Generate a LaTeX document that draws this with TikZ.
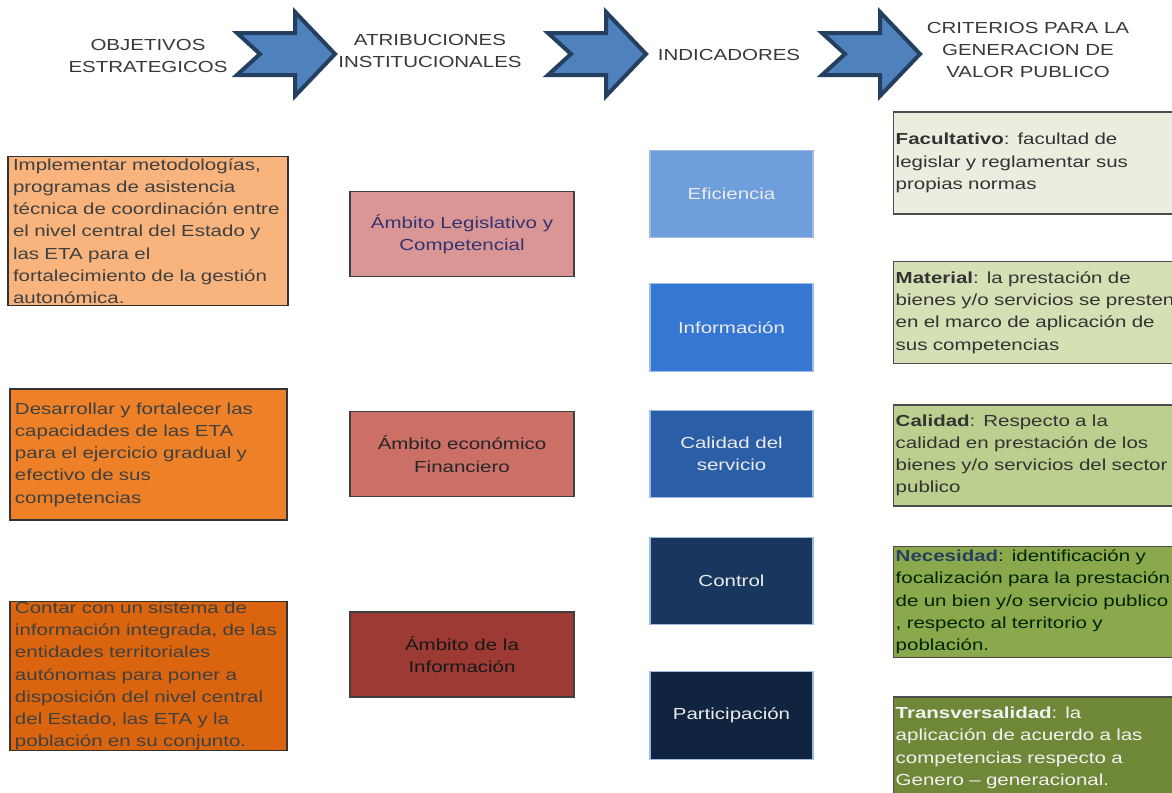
\documentclass[tikz,border=0pt]{standalone}
\usepackage{fontspec}
\setmainfont{Liberation Sans}[FakeStretch=1.28]
\usetikzlibrary{positioning}

\definecolor{arrowfill}{HTML}{4F81BD}
\definecolor{arrowedge}{HTML}{243F60}
\definecolor{objA}{HTML}{F8B47C}
\definecolor{objB}{HTML}{EE8127}
\definecolor{objC}{HTML}{DB650F}
\definecolor{ambA}{HTML}{D99694}
\definecolor{ambB}{HTML}{CC6F67}
\definecolor{ambC}{HTML}{9C3A33}
\definecolor{indA}{HTML}{6E9EDB}
\definecolor{indB}{HTML}{3577D2}
\definecolor{indC}{HTML}{2A5EA6}
\definecolor{indD}{HTML}{17375E}
\definecolor{indE}{HTML}{10243F}
\definecolor{indedge}{HTML}{9DBBE3}
\definecolor{valA}{HTML}{EBEEDF}
\definecolor{valB}{HTML}{D5E0B5}
\definecolor{valC}{HTML}{BBD08E}
\definecolor{valD}{HTML}{8CA84C}
\definecolor{valE}{HTML}{6E8838}

\begin{document}
\begin{tikzpicture}[
    x=0.75pt, y=-0.75pt,
    font=\fontsize{12}{16.7}\selectfont,
    hdr/.style={align=center, text=black!78},
    hdrarrow/.style={fill=arrowfill, draw=arrowedge, line width=3pt, line join=miter},
    objbox/.style={rectangle, draw=black!80, line width=1.1pt, align=left, inner xsep=3.75pt, inner ysep=0pt, text=black!75},
    ambbox/.style={rectangle, draw=black!75, line width=0.9pt, align=center, minimum width=168pt, minimum height=63.75pt},
    indbox/.style={rectangle, draw=indedge, line width=0.8pt, align=center, minimum width=122.25pt, minimum height=65.5pt, text=black!8},
    valbox/.style={rectangle, draw=black!70, line width=1.1pt, align=left, anchor=west, text width=267pt, inner xsep=1.5pt, inner ysep=1pt, text=black!80},
]
    \fill[white] (0,0) rectangle (1172,793);
    \clip (0,0) rectangle (1172,793);

    \node[hdr] (hdObj) at (148,56) {OBJETIVOS\\ESTRATEGICOS};
    \node[hdr] (hdAtr) at (430,51) {ATRIBUCIONES\\INSTITUCIONALES};
    \node[hdr] (hdInd) at (729,55) {INDICADORES};
    \node[hdr] (hdCri) at (1028,50) {CRITERIOS PARA LA\\GENERACION DE\\VALOR PUBLICO};

    \foreach \dx in {0,311,585}
        \draw[hdrarrow] (237+\dx,33) -- (295+\dx,33) -- (295+\dx,12) -- (335+\dx,54) -- (295+\dx,96) -- (295+\dx,75) -- (237+\dx,75) -- (260+\dx,54) -- cycle;

    \node[objbox, fill=objA, text width=202.5pt, minimum height=111.75pt] (objMet) at (148,231) {Implementar metodologías,\\programas de asistencia\\técnica de coordinación entre\\el nivel central del Estado y\\las ETA para el\\fortalecimiento de la gestión\\autonómica.};
    \node[objbox, fill=objB, text width=200.25pt, minimum height=98.25pt] (objCap) at (148.5,454.5) {Desarrollar y fortalecer las\\capacidades de las ETA\\para el ejercicio gradual y\\efectivo de sus\\competencias};
    \node[objbox, fill=objC, text width=200.25pt, minimum height=111pt] (objSis) at (148.5,676) {Contar con un sistema de\\información integrada, de las\\entidades territoriales\\autónomas para poner a\\disposición del nivel central\\del Estado, las ETA y la\\población en su conjunto.};

    \node[ambbox, fill=ambA, text=black!70!blue!80] (ambLeg) at (462,234) {Ámbito Legislativo y\\Competencial};
    \node[ambbox, fill=ambB, text=black!85] (ambEco) [below=100.5pt of ambLeg] {Ámbito económico\\Financiero};
    \node[ambbox, fill=ambC, text=black!90] (ambInf) [below=85.5pt of ambEco] {Ámbito de la\\Información};

    \node[indbox, fill=indA] (indEfi) at (731.5,194) {Eficiencia};
    \node[indbox, fill=indB] (indInf) [below=33.75pt of indEfi] {Información};
    \node[indbox, fill=indC] (indCal) [below=28.5pt of indInf] {Calidad del\\servicio};
    \node[indbox, fill=indD] (indCon) [below=29.25pt of indCal] {Control};
    \node[indbox, fill=indE] (indPar) [below=34.5pt of indCon] {Participación};

    \node[valbox, fill=valA, minimum height=76.5pt] (valFac) at (893,163) {\textbf{Facultativo}: facultad de\\legislar y reglamentar sus\\propias normas};
    \node[valbox, fill=valB, minimum height=76.5pt] (valMat) [below=34.5pt of valFac] {\textbf{Material}: la prestación de\\bienes y/o servicios se presten\\en el marco de aplicación de\\sus competencias};
    \node[valbox, fill=valC, minimum height=75.75pt] (valCal) [below=30pt of valMat] {\textbf{Calidad}: Respecto a la\\calidad en prestación de los\\bienes y/o servicios del sector\\publico};
    \node[valbox, fill=valD, minimum height=83.25pt, text=black!85!green] (valNec) [below=29.25pt of valCal] {\textbf{\color{arrowedge}Necesidad}: identificación y\\focalización para la prestación\\de un bien y/o servicio publico\\, respecto al territorio y\\población.};
    \node[valbox, fill=valE, minimum height=76.5pt, text=white!95!black] (valTra) [below=28.5pt of valNec] {\textbf{Transversalidad}: la\\aplicación de acuerdo a las\\competencias respecto a\\Genero – generacional.};
\end{tikzpicture}
\end{document}
